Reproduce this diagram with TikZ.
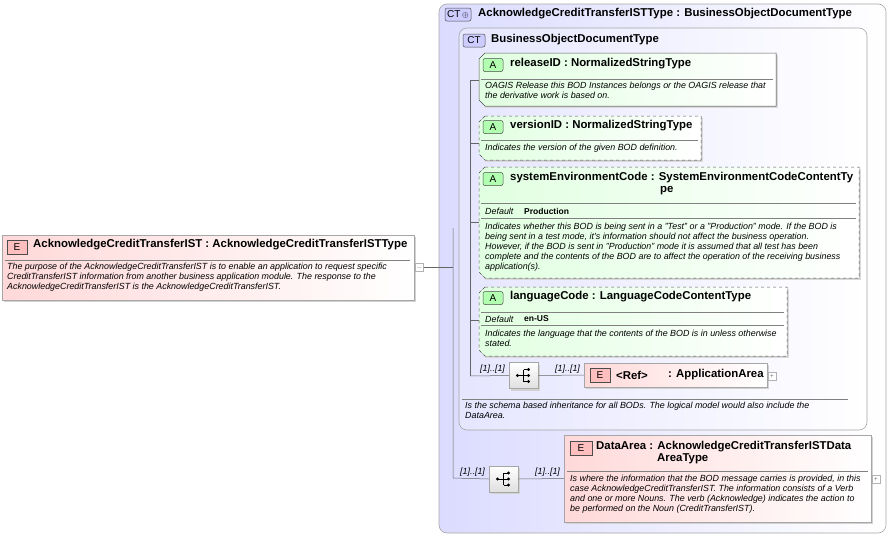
\documentclass[tikz,border=0pt]{standalone}
\usepackage{fontspec}
\setmainfont{Liberation Sans}
\begin{document}
\begin{tikzpicture}[x=1pt,y=-1pt,
  ttl/.style={font=\bfseries\fontsize{11.4}{12}\selectfont,anchor=west,inner sep=0pt},
  dsc/.style={font=\itshape\fontsize{8.9}{10}\selectfont,anchor=north west,inner sep=0pt,align=left},
  lbl/.style={font=\itshape\fontsize{8.9}{10}\selectfont,anchor=west,inner sep=0pt},
  dval/.style={font=\bfseries\fontsize{8.5}{10}\selectfont,anchor=west,inner sep=0pt},
  con/.style={draw=gray!80!black,line width=0.5pt},
  sep/.style={draw=gray,line width=0.4pt},
  plus/.style={draw=gray!60,fill=white,minimum size=8pt,inner sep=0pt,font=\fontsize{7}{7}\selectfont,text=gray},
  badge/.style={draw=gray!60!black,rounded corners=2pt,line width=0.5pt,font=\fontsize{10}{10}\selectfont,inner sep=0pt,anchor=center}
]
\useasboundingbox (0,0) rectangle (889,536);
% outer CT
\draw[draw=gray!70,rounded corners=8pt,left color=blue!14,right color=white,line width=0.6pt] (439,4) rectangle (886,533);
\node[badge,fill=blue!20,minimum width=26pt,minimum height=13pt] (b0) at (458,14.5) {CT\,{\fontsize{8}{8}\selectfont$\oplus$}};
\node[ttl] (t0) at (478,14) {AcknowledgeCreditTransferISTType : BusinessObjectDocumentType};
% inner CT
\draw[draw=gray!70,rounded corners=8pt,left color=blue!10,right color=white,line width=0.6pt] (459,28) rectangle (867,430);
\node[badge,fill=blue!20,minimum width=22pt,minimum height=13pt] (b1) at (474,40.5) {CT};
\node[ttl] (t1) at (491,40) {BusinessObjectDocumentType};
% connectors tree
\coordinate (v1t) at (470,80); \coordinate (v1b) at (470,376);
\draw[con] (v1t) -- (v1b);
\draw[con] (470,80) -- (479,80);
\draw[con] (470,143) -- (479,143);
\draw[con] (470,222) -- (479,222);
\draw[con] (470,320) -- (479,320);
% attribute boxes
\newcommand\attrbox[5]{%
  \fill[gray!30] (#3,#2+2) rectangle (#3+2,#4+2); \fill[gray!30] (#1+6,#4) rectangle (#3+2,#4+2);
  \fill[left color=green!12,right color=white] (#1+6,#2) -- (#3,#2) -- (#3,#4) -- (#1+6,#4) -- (#1,#4-6) -- (#1,#2+6) -- cycle;
  \draw[gray!70!black,line width=0.5pt,#5] (#1+6,#2) -- (#3,#2) -- (#3,#4) -- (#1+6,#4) -- (#1,#4-6) -- (#1,#2+6) -- cycle;
}
% releaseID
\attrbox{479}{53}{776}{106}{solid}
\node[badge,fill=green!30,minimum width=20pt,minimum height=13pt] (a1) at (493,65) {A};
\node[ttl] (n1) at (510,64) {releaseID : NormalizedStringType};
\draw[sep] (481,79) -- (773,79);
\node[dsc] (d1) at (485,82) {OAGIS Release this BOD Instances belongs or the OAGIS release that\\the derivative work is based on.};
% versionID
\attrbox{479}{116}{701}{160}{dashed}
\node[badge,fill=green!30,minimum width=20pt,minimum height=13pt] (a2) at (493,127) {A};
\node[ttl] (n2) at (510,126) {versionID : NormalizedStringType};
\draw[sep] (481,140) -- (698,140);
\node[dsc] (d2) at (485,144) {Indicates the version of the given BOD definition.};
% systemEnvironmentCode
\attrbox{479}{167}{859}{278}{dashed}
\node[badge,fill=green!30,minimum width=20pt,minimum height=13pt] (a3) at (493,179) {A};
\node[ttl] (n3) at (510,178) {systemEnvironmentCode : SystemEnvironmentCodeContentTy};
\node[ttl] (n3b) at (660,191) {pe};
\draw[sep] (481,203) -- (856,203);
\node[lbl] (df3) at (485,211.5) {Default};
\node[dval] (dv3) at (524,211) {Production};
\draw[sep] (481,218) -- (856,218);
\node[dsc] (d3) at (485,222.5) {Indicates whether this BOD is being sent in a "Test" or a "Production" mode. If the BOD is\\being sent in a test mode, it's information should not affect the business operation.\\However, if the BOD is sent in "Production" mode it is assumed that all test has been\\complete and the contents of the BOD are to affect the operation of the receiving business\\application(s).};
% languageCode
\attrbox{479}{287}{787}{356}{dashed}
\node[badge,fill=green!30,minimum width=20pt,minimum height=13pt] (a4) at (493,298) {A};
\node[ttl] (n4) at (510,297) {languageCode : LanguageCodeContentType};
\draw[sep] (481,312) -- (784,312);
\node[lbl] (df4) at (485,319.5) {Default};
\node[dval] (dv4) at (524,319) {en-US};
\draw[sep] (481,325) -- (784,325);
\node[dsc] (d4) at (485,329.5) {Indicates the language that the contents of the BOD is in unless otherwise\\stated.};
% sequence icon
\newcommand\seqicon[3]{%
  \fill[gray!35] (#2-13,#3-11) rectangle (#2+16,#3+15);
  \node[draw=gray!70,line width=0.5pt,top color=white,bottom color=gray!25,minimum width=29pt,minimum height=26pt,inner sep=0pt] (#1) at (#2,#3) {};
  \fill (#2-6,#3) circle (1.7pt);
  \draw[line width=0.7pt] (#2-6,#3) -- (#2,#3) (#2,#3-6) -- (#2,#3+6) (#2,#3-6) -- (#2+4,#3-6) (#2,#3) -- (#2+4,#3) (#2,#3+6) -- (#2+4,#3+6);
  \fill (#2+5,#3-6) circle (1.6pt) (#2+5,#3) circle (1.6pt) (#2+5,#3+6) circle (1.6pt);
}
\seqicon{s1}{523.5}{375.5}
\draw[con] (v1b) -- (s1.west);
\node[lbl] (l1) at (480,369) {[1]..[1]};
\node[lbl] (l2) at (555,369) {[1]..[1]};
% Ref element
\fill[gray!35] (586,365) rectangle (769,389);
\node[draw=gray!70,line width=0.5pt,left color=red!15,right color=white,minimum width=183pt,minimum height=24pt,inner sep=0pt] (r1) at (675.5,375) {};
\draw[con] (s1.east) -- (r1.west);
\node[badge,fill=red!25,rounded corners=0pt,minimum width=20pt,minimum height=14pt] (e1) at (600,375.5) {E};
\node[ttl] (rt) at (616,375) {<Ref>};
\node[ttl] (rt2) at (668,375) {: ApplicationArea};
\node[plus] (p1) at (772,376) {+};
\draw[sep] (462,399) -- (848,399);
\node[dsc] (d5) at (465,402) {Is the schema based inheritance for all BODs. The logical model would also include the\\DataArea.};
% DataArea
\seqicon{s2}{503.5}{479}
\coordinate (v0t) at (453,228); \coordinate (v0b) at (453,478);
\draw[con] (v0t) -- (v0b) -- (s2.west);
\node[lbl] (l3) at (460,472) {[1]..[1]};
\node[lbl] (l4) at (535,472) {[1]..[1]};
\fill[gray!35] (566,437) rectangle (873,524);
\node[draw=gray!70,line width=0.5pt,left color=red!15,right color=white,minimum width=307pt,minimum height=87pt,inner sep=0pt] (da) at (717.5,478.5) {};
\draw[con] (s2.east) -- (da.west);
\node[badge,fill=red!25,rounded corners=0pt,minimum width=22pt,minimum height=14pt] (e2) at (581,448) {E};
\node[ttl] (dt) at (596,447) {DataArea : AcknowledgeCreditTransferISTData};
\node[ttl] (dt2) at (657,459) {AreaType};
\draw[sep] (567,471) -- (868,471);
\node[dsc] (d6) at (570,475) {Is where the information that the BOD message carries is provided, in this\\case AcknowledgeCreditTransferIST. The information consists of a Verb\\and one or more Nouns. The verb (Acknowledge) indicates the action to\\be performed on the Noun (CreditTransferIST).};
\node[plus] (p2) at (876,479) {+};
% Left element
\fill[gray!35] (4,237) rectangle (416,302);
\node[draw=gray!70,line width=0.5pt,left color=red!15,right color=white,minimum width=412pt,minimum height=65pt,inner sep=0pt] (root) at (208,267.5) {};
\node[badge,fill=red!25,rounded corners=0pt,minimum width=20pt,minimum height=14pt] (e0) at (17,247) {E};
\node[ttl] (rtt) at (33,245) {AcknowledgeCreditTransferIST : AcknowledgeCreditTransferISTType};
\draw[sep] (5,260) -- (410,260);
\node[dsc] (d0) at (7,263) {The purpose of the AcknowledgeCreditTransferIST is to enable an application to request specific\\CreditTransferIST information from another business application module.  The response to the\\AcknowledgeCreditTransferIST is the AcknowledgeCreditTransferIST.};
\node[plus] (p0) at (419.5,267.5) {$-$};
\draw[con] (p0.east) -- (453,267.5);
\end{tikzpicture}
\end{document}
